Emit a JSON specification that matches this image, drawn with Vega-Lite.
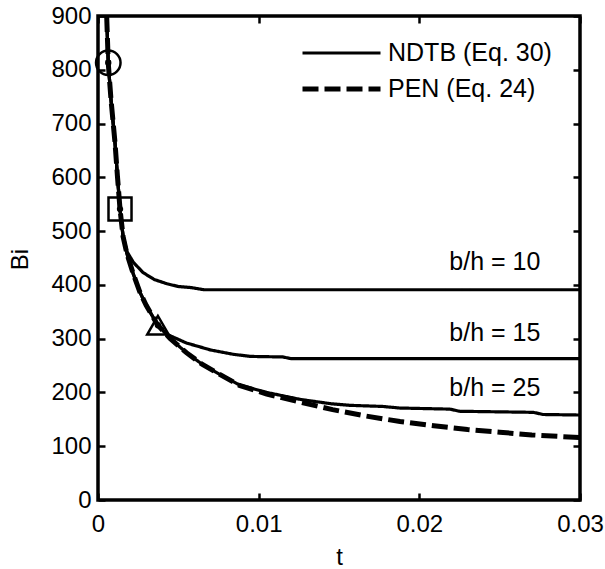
{
  "$schema": "https://vega.github.io/schema/vega-lite/v6.json",
  "width": 482,
  "height": 484,
  "autosize": "none",
  "padding": {"left": 98, "top": 16, "right": 25, "bottom": 69},
  "background": "white",
  "config": {
    "font": "Liberation Sans",
    "view": {"stroke": "black", "strokeWidth": 3.5},
    "axis": {
      "domain": false,
      "grid": false,
      "tickColor": "black",
      "tickWidth": 2.5,
      "tickSize": -7,
      "labelColor": "black",
      "labelFontSize": 24,
      "titleColor": "black",
      "titleFontSize": 24,
      "titleFontWeight": "normal"
    },
    "legend": {
      "labelFontSize": 25,
      "labelColor": "black",
      "labelLimit": 0
    }
  },
  "datasets": {
    "curves": [
      {"model": "NDTB (Eq. 30)", "series": "b/h = 10", "t": 0.00054, "Bi": 900},
      {"model": "NDTB (Eq. 30)", "series": "b/h = 10", "t": 0.00064, "Bi": 812},
      {"model": "NDTB (Eq. 30)", "series": "b/h = 10", "t": 0.00081, "Bi": 744},
      {"model": "NDTB (Eq. 30)", "series": "b/h = 10", "t": 0.00106, "Bi": 664},
      {"model": "NDTB (Eq. 30)", "series": "b/h = 10", "t": 0.00121, "Bi": 602},
      {"model": "NDTB (Eq. 30)", "series": "b/h = 10", "t": 0.00137, "Bi": 541},
      {"model": "NDTB (Eq. 30)", "series": "b/h = 10", "t": 0.00156, "Bi": 492},
      {"model": "NDTB (Eq. 30)", "series": "b/h = 10", "t": 0.0018, "Bi": 462},
      {"model": "NDTB (Eq. 30)", "series": "b/h = 10", "t": 0.0022, "Bi": 442},
      {"model": "NDTB (Eq. 30)", "series": "b/h = 10", "t": 0.0028, "Bi": 423},
      {"model": "NDTB (Eq. 30)", "series": "b/h = 10", "t": 0.0035, "Bi": 410},
      {"model": "NDTB (Eq. 30)", "series": "b/h = 10", "t": 0.0043, "Bi": 402},
      {"model": "NDTB (Eq. 30)", "series": "b/h = 10", "t": 0.005, "Bi": 397},
      {"model": "NDTB (Eq. 30)", "series": "b/h = 10", "t": 0.0058, "Bi": 395},
      {"model": "NDTB (Eq. 30)", "series": "b/h = 10", "t": 0.0062, "Bi": 393},
      {"model": "NDTB (Eq. 30)", "series": "b/h = 10", "t": 0.0066, "Bi": 391},
      {"model": "NDTB (Eq. 30)", "series": "b/h = 10", "t": 0.03, "Bi": 391},

      {"model": "NDTB (Eq. 30)", "series": "b/h = 15", "t": 0.00054, "Bi": 900},
      {"model": "NDTB (Eq. 30)", "series": "b/h = 15", "t": 0.00064, "Bi": 812},
      {"model": "NDTB (Eq. 30)", "series": "b/h = 15", "t": 0.00081, "Bi": 744},
      {"model": "NDTB (Eq. 30)", "series": "b/h = 15", "t": 0.00106, "Bi": 664},
      {"model": "NDTB (Eq. 30)", "series": "b/h = 15", "t": 0.00121, "Bi": 602},
      {"model": "NDTB (Eq. 30)", "series": "b/h = 15", "t": 0.00137, "Bi": 541},
      {"model": "NDTB (Eq. 30)", "series": "b/h = 15", "t": 0.00156, "Bi": 490},
      {"model": "NDTB (Eq. 30)", "series": "b/h = 15", "t": 0.0018, "Bi": 458},
      {"model": "NDTB (Eq. 30)", "series": "b/h = 15", "t": 0.0022, "Bi": 420},
      {"model": "NDTB (Eq. 30)", "series": "b/h = 15", "t": 0.0026, "Bi": 387},
      {"model": "NDTB (Eq. 30)", "series": "b/h = 15", "t": 0.003, "Bi": 362},
      {"model": "NDTB (Eq. 30)", "series": "b/h = 15", "t": 0.0037, "Bi": 326},
      {"model": "NDTB (Eq. 30)", "series": "b/h = 15", "t": 0.0043, "Bi": 308},
      {"model": "NDTB (Eq. 30)", "series": "b/h = 15", "t": 0.0055, "Bi": 292},
      {"model": "NDTB (Eq. 30)", "series": "b/h = 15", "t": 0.007, "Bi": 279},
      {"model": "NDTB (Eq. 30)", "series": "b/h = 15", "t": 0.0084, "Bi": 271},
      {"model": "NDTB (Eq. 30)", "series": "b/h = 15", "t": 0.0095, "Bi": 267},
      {"model": "NDTB (Eq. 30)", "series": "b/h = 15", "t": 0.0115, "Bi": 266},
      {"model": "NDTB (Eq. 30)", "series": "b/h = 15", "t": 0.012, "Bi": 263},
      {"model": "NDTB (Eq. 30)", "series": "b/h = 15", "t": 0.03, "Bi": 263},

      {"model": "NDTB (Eq. 30)", "series": "b/h = 25", "t": 0.00054, "Bi": 900},
      {"model": "NDTB (Eq. 30)", "series": "b/h = 25", "t": 0.00064, "Bi": 812},
      {"model": "NDTB (Eq. 30)", "series": "b/h = 25", "t": 0.00081, "Bi": 744},
      {"model": "NDTB (Eq. 30)", "series": "b/h = 25", "t": 0.00106, "Bi": 664},
      {"model": "NDTB (Eq. 30)", "series": "b/h = 25", "t": 0.00121, "Bi": 602},
      {"model": "NDTB (Eq. 30)", "series": "b/h = 25", "t": 0.00137, "Bi": 541},
      {"model": "NDTB (Eq. 30)", "series": "b/h = 25", "t": 0.00156, "Bi": 490},
      {"model": "NDTB (Eq. 30)", "series": "b/h = 25", "t": 0.0018, "Bi": 458},
      {"model": "NDTB (Eq. 30)", "series": "b/h = 25", "t": 0.0022, "Bi": 420},
      {"model": "NDTB (Eq. 30)", "series": "b/h = 25", "t": 0.0026, "Bi": 387},
      {"model": "NDTB (Eq. 30)", "series": "b/h = 25", "t": 0.003, "Bi": 362},
      {"model": "NDTB (Eq. 30)", "series": "b/h = 25", "t": 0.0037, "Bi": 326},
      {"model": "NDTB (Eq. 30)", "series": "b/h = 25", "t": 0.0045, "Bi": 300},
      {"model": "NDTB (Eq. 30)", "series": "b/h = 25", "t": 0.0055, "Bi": 274},
      {"model": "NDTB (Eq. 30)", "series": "b/h = 25", "t": 0.0065, "Bi": 252},
      {"model": "NDTB (Eq. 30)", "series": "b/h = 25", "t": 0.0075, "Bi": 235},
      {"model": "NDTB (Eq. 30)", "series": "b/h = 25", "t": 0.0088, "Bi": 214},
      {"model": "NDTB (Eq. 30)", "series": "b/h = 25", "t": 0.0105, "Bi": 200},
      {"model": "NDTB (Eq. 30)", "series": "b/h = 25", "t": 0.0126, "Bi": 187},
      {"model": "NDTB (Eq. 30)", "series": "b/h = 25", "t": 0.0145, "Bi": 179},
      {"model": "NDTB (Eq. 30)", "series": "b/h = 25", "t": 0.0157, "Bi": 176},
      {"model": "NDTB (Eq. 30)", "series": "b/h = 25", "t": 0.0177, "Bi": 174},
      {"model": "NDTB (Eq. 30)", "series": "b/h = 25", "t": 0.0188, "Bi": 171},
      {"model": "NDTB (Eq. 30)", "series": "b/h = 25", "t": 0.0219, "Bi": 169},
      {"model": "NDTB (Eq. 30)", "series": "b/h = 25", "t": 0.0225, "Bi": 165},
      {"model": "NDTB (Eq. 30)", "series": "b/h = 25", "t": 0.0271, "Bi": 163},
      {"model": "NDTB (Eq. 30)", "series": "b/h = 25", "t": 0.0277, "Bi": 159},
      {"model": "NDTB (Eq. 30)", "series": "b/h = 25", "t": 0.03, "Bi": 158},

      {"model": "PEN (Eq. 24)", "series": "PEN", "t": 0.00054, "Bi": 900},
      {"model": "PEN (Eq. 24)", "series": "PEN", "t": 0.00064, "Bi": 812},
      {"model": "PEN (Eq. 24)", "series": "PEN", "t": 0.00081, "Bi": 744},
      {"model": "PEN (Eq. 24)", "series": "PEN", "t": 0.00106, "Bi": 664},
      {"model": "PEN (Eq. 24)", "series": "PEN", "t": 0.00121, "Bi": 602},
      {"model": "PEN (Eq. 24)", "series": "PEN", "t": 0.00137, "Bi": 541},
      {"model": "PEN (Eq. 24)", "series": "PEN", "t": 0.00156, "Bi": 490},
      {"model": "PEN (Eq. 24)", "series": "PEN", "t": 0.0018, "Bi": 458},
      {"model": "PEN (Eq. 24)", "series": "PEN", "t": 0.0022, "Bi": 420},
      {"model": "PEN (Eq. 24)", "series": "PEN", "t": 0.0026, "Bi": 387},
      {"model": "PEN (Eq. 24)", "series": "PEN", "t": 0.003, "Bi": 362},
      {"model": "PEN (Eq. 24)", "series": "PEN", "t": 0.0037, "Bi": 326},
      {"model": "PEN (Eq. 24)", "series": "PEN", "t": 0.0045, "Bi": 300},
      {"model": "PEN (Eq. 24)", "series": "PEN", "t": 0.0055, "Bi": 274},
      {"model": "PEN (Eq. 24)", "series": "PEN", "t": 0.0065, "Bi": 252},
      {"model": "PEN (Eq. 24)", "series": "PEN", "t": 0.0075, "Bi": 235},
      {"model": "PEN (Eq. 24)", "series": "PEN", "t": 0.0088, "Bi": 213},
      {"model": "PEN (Eq. 24)", "series": "PEN", "t": 0.0105, "Bi": 197},
      {"model": "PEN (Eq. 24)", "series": "PEN", "t": 0.0126, "Bi": 182},
      {"model": "PEN (Eq. 24)", "series": "PEN", "t": 0.0146, "Bi": 168},
      {"model": "PEN (Eq. 24)", "series": "PEN", "t": 0.0167, "Bi": 156},
      {"model": "PEN (Eq. 24)", "series": "PEN", "t": 0.0188, "Bi": 146},
      {"model": "PEN (Eq. 24)", "series": "PEN", "t": 0.0209, "Bi": 138},
      {"model": "PEN (Eq. 24)", "series": "PEN", "t": 0.023, "Bi": 131},
      {"model": "PEN (Eq. 24)", "series": "PEN", "t": 0.025, "Bi": 126},
      {"model": "PEN (Eq. 24)", "series": "PEN", "t": 0.027, "Bi": 121},
      {"model": "PEN (Eq. 24)", "series": "PEN", "t": 0.03, "Bi": 116}
    ],
    "markers": [
      {"point": "P1", "t": 0.00064, "Bi": 813},
      {"point": "P2", "t": 0.00137, "Bi": 541},
      {"point": "P3", "t": 0.00373, "Bi": 325}
    ],
    "labels": [
      {"text": "b/h = 10", "t": 0.0247, "Bi": 443},
      {"text": "b/h = 15", "t": 0.0247, "Bi": 310},
      {"text": "b/h = 25", "t": 0.0247, "Bi": 208}
    ]
  },
  "layer": [
    {
      "data": {"name": "curves"},
      "mark": {"type": "line", "clip": true, "color": "black"},
      "encoding": {
        "x": {
          "field": "t", "type": "quantitative",
          "scale": {"domain": [0, 0.03], "nice": false, "zero": false},
          "axis": {"orient": "bottom", "values": [0, 0.01, 0.02, 0.03], "format": "~g", "labelPadding": 19, "title": "t", "titleY": 64, "titleBaseline": "alphabetic", "labelFlush": false}
        },
        "y": {
          "field": "Bi", "type": "quantitative",
          "scale": {"domain": [0, 900], "nice": false},
          "axis": {"orient": "left", "values": [0, 100, 200, 300, 400, 500, 600, 700, 800, 900], "format": "d", "labelPadding": 14, "title": "Bi", "titleX": -78, "titleY": 243, "titleAngle": -90, "titleAlign": "center", "titleBaseline": "middle", "labelFlush": false}
        },
        "detail": {"field": "series", "type": "nominal"},
        "strokeDash": {
          "field": "model", "type": "nominal",
          "scale": {"domain": ["NDTB (Eq. 30)", "PEN (Eq. 24)"], "range": [[1, 0], [16, 6]]},
          "legend": {"title": null, "orient": "none", "legendX": 202, "legendY": 23, "symbolType": "stroke", "symbolSize": 6084, "symbolStrokeColor": "black", "symbolStrokeWidth": 4, "labelOffset": 5, "clipHeight": 28, "rowPadding": 8}
        },
        "strokeWidth": {
          "field": "model", "type": "nominal",
          "scale": {"domain": ["NDTB (Eq. 30)", "PEN (Eq. 24)"], "range": [3.2, 5]},
          "legend": null
        }
      }
    },
    {
      "data": {"name": "markers"},
      "mark": {"type": "point", "filled": false, "color": "black", "strokeWidth": 2.5, "opacity": 1},
      "encoding": {
        "x": {"field": "t", "type": "quantitative", "axis": null},
        "y": {"field": "Bi", "type": "quantitative", "axis": null},
        "shape": {"field": "point", "type": "nominal", "scale": {"domain": ["P1", "P2", "P3"], "range": ["circle", "square", "triangle-up"]}, "legend": null},
        "size": {"field": "point", "type": "nominal", "scale": {"domain": ["P1", "P2", "P3"], "range": [600, 460, 780]}, "legend": null}
      }
    },
    {
      "data": {"name": "markers"},
      "mark": {"type": "circle", "color": "black", "size": 40, "opacity": 1},
      "encoding": {
        "x": {"field": "t", "type": "quantitative", "axis": null},
        "y": {"field": "Bi", "type": "quantitative", "axis": null}
      }
    },
    {
      "data": {"name": "labels"},
      "mark": {"type": "text", "fontSize": 25, "align": "center", "baseline": "middle", "color": "black"},
      "encoding": {
        "x": {"field": "t", "type": "quantitative", "axis": null},
        "y": {"field": "Bi", "type": "quantitative", "axis": null},
        "text": {"field": "text"}
      }
    },
    {
      "data": {"name": "markers"},
      "mark": {"type": "point", "opacity": 0},
      "encoding": {
        "x": {"field": "t", "type": "quantitative", "axis": {"orient": "top", "values": [0, 0.01, 0.02, 0.03], "labels": false, "title": null}},
        "y": {"field": "Bi", "type": "quantitative", "axis": {"orient": "right", "values": [0, 100, 200, 300, 400, 500, 600, 700, 800, 900], "labels": false, "title": null}}
      }
    }
  ],
  "resolve": {"axis": {"x": "independent", "y": "independent"}}
}
